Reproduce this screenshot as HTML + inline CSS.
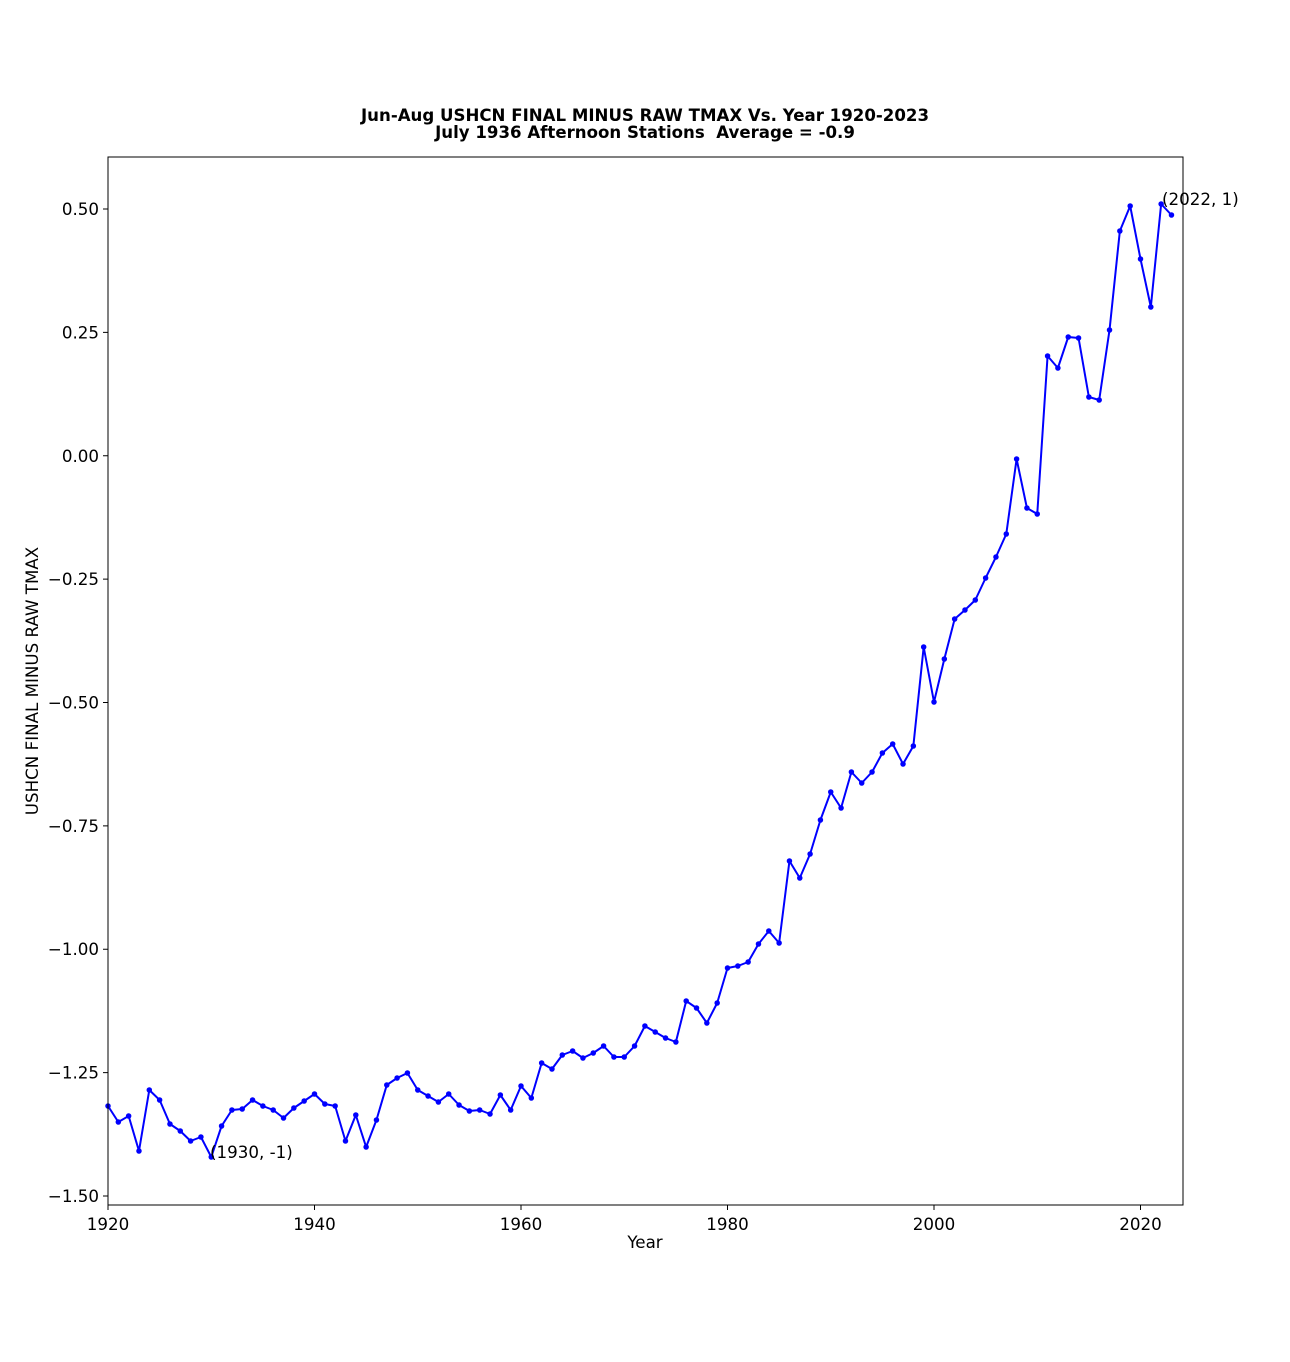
<!DOCTYPE html>
<html><head><meta charset="utf-8"><style>body{margin:0;background:#fff}svg{display:block}</style></head>
<body>
<svg width="1290" height="1362" xmlns="http://www.w3.org/2000/svg" font-family="'DejaVu Sans','Liberation Sans',sans-serif">
<rect width="1290" height="1362" fill="#fff"/>
<text x="645" y="121" font-size="16.6" font-weight="bold" text-anchor="middle" textLength="568" lengthAdjust="spacingAndGlyphs">Jun-Aug USHCN FINAL MINUS RAW TMAX Vs. Year 1920-2023</text>
<text x="645" y="138" font-size="16.6" font-weight="bold" text-anchor="middle">July 1936 Afternoon Stations &#160;Average = -0.9</text>
<g transform="translate(108,0) scale(10.325,1)">
<polyline fill="none" stroke="#0000ff" stroke-width="2" vector-effect="non-scaling-stroke" stroke-linejoin="round" points="0,1106 1,1122 2,1116 3,1151 4,1090 5,1100 6,1124 7,1131 8,1141 9,1137 10,1157 11,1126 12,1110 13,1109 14,1100 15,1106 16,1110 17,1118 18,1108 19,1101 20,1094 21,1104 22,1106 23,1141 24,1115 25,1147 26,1120 27,1085 28,1078 29,1073 30,1090 31,1096 32,1102 33,1094 34,1105 35,1111 36,1110 37,1114 38,1095 39,1110 40,1086 41,1098 42,1063 43,1069 44,1055 45,1051 46,1058 47,1053 48,1046 49,1057 50,1057 51,1046 52,1026 53,1032 54,1038 55,1042 56,1001 57,1008 58,1023 59,1003 60,968 61,966 62,962 63,944 64,931 65,943 66,861 67,878 68,854 69,820 70,792 71,808 72,772 73,783 74,772 75,753 76,744 77,764 78,746 79,647 80,702 81,659 82,619 83,610 84,600 85,578 86,557 87,534 88,459 89,508 90,514 91,356 92,368 93,337 94,338 95,397 96,400 97,330 98,231 99,206 100,259 101,307 102,204 103,215"/>
<path fill="none" stroke="#0000ff" stroke-width="5.5" stroke-linecap="round" vector-effect="non-scaling-stroke" d="M0 1106h0M1 1122h0M2 1116h0M3 1151h0M4 1090h0M5 1100h0M6 1124h0M7 1131h0M8 1141h0M9 1137h0M10 1157h0M11 1126h0M12 1110h0M13 1109h0M14 1100h0M15 1106h0M16 1110h0M17 1118h0M18 1108h0M19 1101h0M20 1094h0M21 1104h0M22 1106h0M23 1141h0M24 1115h0M25 1147h0M26 1120h0M27 1085h0M28 1078h0M29 1073h0M30 1090h0M31 1096h0M32 1102h0M33 1094h0M34 1105h0M35 1111h0M36 1110h0M37 1114h0M38 1095h0M39 1110h0M40 1086h0M41 1098h0M42 1063h0M43 1069h0M44 1055h0M45 1051h0M46 1058h0M47 1053h0M48 1046h0M49 1057h0M50 1057h0M51 1046h0M52 1026h0M53 1032h0M54 1038h0M55 1042h0M56 1001h0M57 1008h0M58 1023h0M59 1003h0M60 968h0M61 966h0M62 962h0M63 944h0M64 931h0M65 943h0M66 861h0M67 878h0M68 854h0M69 820h0M70 792h0M71 808h0M72 772h0M73 783h0M74 772h0M75 753h0M76 744h0M77 764h0M78 746h0M79 647h0M80 702h0M81 659h0M82 619h0M83 610h0M84 600h0M85 578h0M86 557h0M87 534h0M88 459h0M89 508h0M90 514h0M91 356h0M92 368h0M93 337h0M94 338h0M95 397h0M96 400h0M97 330h0M98 231h0M99 206h0M100 259h0M101 307h0M102 204h0M103 215h0"/>
</g>
<rect x="108" y="157" width="1075" height="1048" fill="none" stroke="#000" stroke-width="1"/>
<g stroke="#000" stroke-width="1">
<path d="M108 1205v5M314.5 1205v5M521 1205v5M727.5 1205v5M934 1205v5M1140.5 1205v5"/>
<path d="M108 209h-5M108 332.4h-5M108 455.75h-5M108 579.1h-5M108 702.5h-5M108 825.9h-5M108 949.25h-5M108 1072.6h-5M108 1196h-5"/>
</g>
<g font-size="16.7" text-anchor="middle">
<text x="108" y="1230">1920</text><text x="314.5" y="1230">1940</text><text x="521" y="1230">1960</text><text x="727.5" y="1230">1980</text><text x="934" y="1230">2000</text><text x="1140.5" y="1230">2020</text>
<text x="645" y="1248">Year</text>
</g>
<g font-size="16.7" text-anchor="end">
<text x="99" y="215">0.50</text><text x="99" y="338.5">0.25</text><text x="99" y="462">0.00</text><text x="99" y="585">−0.25</text><text x="99" y="708.5">−0.50</text><text x="99" y="832">−0.75</text><text x="99" y="955">−1.00</text><text x="99" y="1078.5">−1.25</text><text x="99" y="1202">−1.50</text>
</g>
<text transform="translate(38,681) rotate(-90)" font-size="16.7" text-anchor="middle">USHCN FINAL MINUS RAW TMAX</text>
<text x="210" y="1158" font-size="16.7">(1930, -1)</text>
<text x="1162" y="205" font-size="16.7">(2022, 1)</text>
</svg>
</body></html>
